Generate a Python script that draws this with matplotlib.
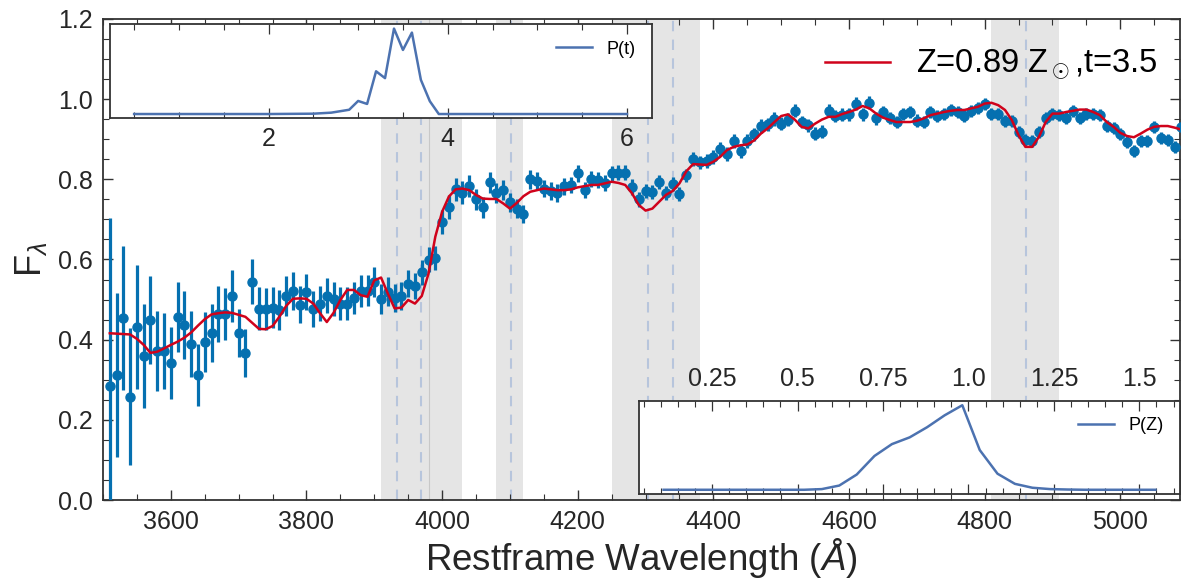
import numpy as np
import matplotlib
matplotlib.use('Agg')
import matplotlib.pyplot as plt
from matplotlib.ticker import MultipleLocator, FixedLocator, FixedFormatter

plt.rcParams['font.family'] = ['Liberation Sans', 'DejaVu Sans']
plt.rcParams['mathtext.fontset'] = 'custom'
plt.rcParams['mathtext.rm'] = 'Liberation Sans'
plt.rcParams['mathtext.it'] = 'Liberation Sans:italic'
plt.rcParams['mathtext.fallback'] = 'cm'

# observed spectrum, 10 A sampling from 3510 to 5090 A
wave = np.arange(3510, 5091, 10)
flux = [
    0.284, 0.312, 0.454, 0.258, 0.431, 0.359, 0.450, 0.372, 0.372, 0.342,  # 3510-3600
    0.457, 0.436, 0.389, 0.312, 0.394, 0.417, 0.464, 0.464, 0.509, 0.416,  # 3610-3700
    0.367, 0.545, 0.477, 0.477, 0.480, 0.474, 0.509, 0.522, 0.487, 0.519,  # 3710-3800
    0.476, 0.490, 0.510, 0.501, 0.490, 0.490, 0.503, 0.522, 0.522, 0.544,  # 3810-3900
    0.501, 0.520, 0.503, 0.509, 0.540, 0.534, 0.568, 0.600, 0.604, 0.694,  # 3910-4000
    0.731, 0.775, 0.767, 0.783, 0.750, 0.730, 0.793, 0.767, 0.773, 0.743,  # 4010-4100
    0.727, 0.714, 0.800, 0.796, 0.777, 0.771, 0.766, 0.783, 0.786, 0.815,  # 4110-4200
    0.773, 0.802, 0.798, 0.791, 0.815, 0.817, 0.817, 0.781, 0.750, 0.771,  # 4210-4300
    0.769, 0.794, 0.766, 0.788, 0.763, 0.810, 0.850, 0.842, 0.846, 0.856,  # 4310-4400
    0.875, 0.863, 0.895, 0.871, 0.895, 0.912, 0.933, 0.937, 0.951, 0.939,  # 4410-4500
    0.949, 0.971, 0.943, 0.935, 0.914, 0.919, 0.971, 0.958, 0.961, 0.962,  # 4510-4600
    0.989, 0.962, 0.991, 0.952, 0.968, 0.953, 0.943, 0.963, 0.968, 0.946,  # 4610-4700
    0.942, 0.968, 0.958, 0.962, 0.973, 0.969, 0.958, 0.971, 0.979, 0.988,  # 4710-4800
    0.963, 0.964, 0.945, 0.945, 0.919, 0.898, 0.895, 0.919, 0.952, 0.964,  # 4810-4900
    0.960, 0.954, 0.971, 0.954, 0.963, 0.964, 0.961, 0.933, 0.929, 0.913,  # 4910-5000
    0.894, 0.871, 0.895, 0.896, 0.931, 0.904, 0.898, 0.881, 0.931,         # 5010-5090
]
flux_err = [
    0.420, 0.205, 0.180, 0.170, 0.155, 0.130, 0.110, 0.100, 0.095, 0.090,
    0.087, 0.085, 0.082, 0.077, 0.075, 0.072, 0.069, 0.066, 0.064, 0.060,
    0.059, 0.056, 0.054, 0.053, 0.051, 0.050, 0.049, 0.048, 0.046, 0.045,
    0.045, 0.043, 0.043, 0.042, 0.041, 0.041, 0.040, 0.040, 0.039, 0.038,
    0.037, 0.036, 0.035, 0.034, 0.033, 0.032, 0.031, 0.031, 0.030, 0.030,
    0.029, 0.028, 0.028, 0.027, 0.027, 0.026, 0.026, 0.025, 0.025, 0.024,
    0.024, 0.023, 0.023, 0.023, 0.022, 0.022, 0.022, 0.021, 0.021, 0.021,
    0.020, 0.020, 0.020, 0.020, 0.019, 0.019, 0.019, 0.019, 0.018, 0.018,
    0.018, 0.018, 0.018, 0.017, 0.017, 0.017, 0.017, 0.017, 0.017, 0.017,
    0.017, 0.017, 0.017, 0.017, 0.017, 0.017, 0.017, 0.017, 0.017, 0.017,
    0.016, 0.016, 0.016, 0.016, 0.016, 0.016, 0.016, 0.016, 0.016, 0.016,
    0.016, 0.016, 0.016, 0.016, 0.016, 0.016, 0.016, 0.016, 0.016, 0.016,
    0.015, 0.015, 0.015, 0.015, 0.015, 0.015, 0.015, 0.015, 0.015, 0.015,
    0.015, 0.015, 0.015, 0.015, 0.015, 0.015, 0.015, 0.015, 0.015, 0.015,
    0.015, 0.015, 0.015, 0.015, 0.015, 0.015, 0.015, 0.015, 0.015, 0.015,
    0.015, 0.015, 0.015, 0.015, 0.015, 0.015, 0.015, 0.015, 0.015,
]
# best-fit model on the same grid
model = [
    0.416, 0.415, 0.414, 0.413, 0.402, 0.387, 0.367, 0.370, 0.378, 0.387,
    0.395, 0.405, 0.418, 0.435, 0.451, 0.463, 0.466, 0.468, 0.467, 0.462,
    0.457, 0.442, 0.427, 0.426, 0.434, 0.457, 0.484, 0.502, 0.503, 0.502,
    0.490, 0.466, 0.444, 0.467, 0.499, 0.524, 0.524, 0.511, 0.507, 0.548,
    0.555, 0.515, 0.478, 0.480, 0.499, 0.490, 0.509, 0.565, 0.657, 0.719,
    0.757, 0.775, 0.777, 0.773, 0.761, 0.752, 0.751, 0.751, 0.740, 0.727,
    0.741, 0.758, 0.769, 0.773, 0.777, 0.775, 0.773, 0.773, 0.775, 0.780,
    0.783, 0.786, 0.786, 0.790, 0.794, 0.791, 0.786, 0.765, 0.736, 0.722,
    0.727, 0.744, 0.761, 0.771, 0.790, 0.820, 0.838, 0.837, 0.836, 0.844,
    0.856, 0.873, 0.881, 0.885, 0.887, 0.897, 0.914, 0.927, 0.943, 0.958,
    0.962, 0.949, 0.931, 0.927, 0.939, 0.949, 0.956, 0.956, 0.963, 0.968,
    0.974, 0.983, 0.977, 0.964, 0.954, 0.948, 0.943, 0.943, 0.943, 0.946,
    0.952, 0.960, 0.964, 0.968, 0.971, 0.973, 0.973, 0.977, 0.981, 0.989,
    0.991, 0.985, 0.973, 0.948, 0.910, 0.881, 0.881, 0.906, 0.943, 0.964,
    0.964, 0.968, 0.971, 0.974, 0.974, 0.968, 0.960, 0.943, 0.931, 0.916,
    0.908, 0.905, 0.914, 0.924, 0.931, 0.933, 0.933, 0.929, 0.924,
]

# shaded index windows and line centres
bands = [(3910, 4030), (4080, 4120), (4250, 4380), (4810, 4910)]
lines = [3934, 3969, 4102, 4304, 4340, 4861]

# age posterior
t_grid = [0.5, 1.0, 1.5, 2.0, 2.5, 2.7, 2.9, 3.0, 3.1, 3.2, 3.3, 3.4, 3.5,
          3.6, 3.7, 3.8, 3.9, 4.0, 4.5, 5.0, 5.5, 6.0]
p_t = [0, 0, 0, 0, 0.004, 0.016, 0.05, 0.153, 0.118, 0.50, 0.42, 1.0, 0.75,
       0.953, 0.40, 0.15, 0.0, 0, 0, 0, 0, 0]

# metallicity posterior
z_grid = [0.108, 0.159, 0.211, 0.262, 0.314, 0.365, 0.416, 0.468, 0.519, 0.571,
          0.622, 0.673, 0.725, 0.776, 0.828, 0.879, 0.930, 0.982, 1.033, 1.085,
          1.136, 1.187, 1.239, 1.290, 1.342, 1.393, 1.444, 1.496, 1.547]
p_z = [0, 0, 0, 0, 0, 0, 0, 0, 0, 0.008,
       0.05, 0.18, 0.40, 0.54, 0.62, 0.74, 0.88, 1.0, 0.47, 0.19,
       0.07, 0.024, 0.008, 0.003, 0, 0, 0, 0, 0]
z_ticks = [0.25, 0.5, 0.75, 1.0, 1.25, 1.5]

W, H = 1184, 582
fig = plt.figure(figsize=(W / 100, H / 100), dpi=100)

def px_axes(x0, y0, x1, y1):
    # pixel box (top-left origin) -> figure fraction
    return fig.add_axes([x0 / W, 1 - y1 / H, (x1 - x0) / W, (y1 - y0) / H])

ax = px_axes(103, 19, 1180, 500)
for lo, hi in bands:
    ax.axvspan(lo, hi, color='#e5e5e5', lw=0, zorder=0)
for lam in lines:
    ax.axvline(lam, color='#b7c5dc', lw=1.5, ls=(0, (5, 4)), zorder=1)
ax.axvline(3980, color='#c8c8c8', lw=0.8, zorder=1)

ax.errorbar(wave, flux, yerr=flux_err, fmt='o', color='#0570b0', ms=6.5,
            elinewidth=2.3, capsize=0, zorder=3)
ax.plot(wave, model, color='#d0021b', lw=1.8, zorder=4,
        label=r'Z=0.89 Z$_\odot$,t=3.5')

ax.set_xlim(3500, 5088)
ax.set_ylim(0, 1.2)
ax.xaxis.set_major_locator(MultipleLocator(200))
ax.xaxis.set_minor_locator(MultipleLocator(50))
ax.yaxis.set_major_locator(MultipleLocator(0.2))
ax.yaxis.set_minor_locator(MultipleLocator(0.05))
ax.tick_params(which='both', direction='in', top=True, right=True,
               color='#333333', labelcolor='#262626', labelsize=18)
ax.tick_params(which='major', length=7, width=1, pad=7.5)
ax.tick_params(which='minor', length=4.3, width=0.8)
for sp in ax.spines.values():
    sp.set_color('#333333')
    sp.set_linewidth(1.3)
ax.set_xlabel(r'Restframe Wavelength ($\AA$)', fontsize=26.5, color='#262626', labelpad=1)
ax.set_ylabel(r'F$_\lambda$', fontsize=26, color='#262626', labelpad=6)
ax.legend(loc='upper right', bbox_to_anchor=(1.0065, 1.0), frameon=False,
          fontsize=23.5, handlelength=2)

# age inset
ax_t = px_axes(109.5, 24.3, 651.6, 118.3)
ax_t.plot(t_grid, p_t, color='#4c72b0', lw=1.8, label='P(t)')
ax_t.xaxis.set_major_locator(MultipleLocator(2))
ax_t.xaxis.set_minor_locator(MultipleLocator(0.5))
ax_t.set_yticks([])
ax_t.tick_params(which='both', direction='in', top=True, bottom=True,
                 color='#333333', labelcolor='#262626', labelsize=18)
ax_t.tick_params(which='major', length=7, width=0.9, pad=6)
ax_t.tick_params(which='minor', length=4.3, width=0.8)
ax_t.legend(loc='upper right', frameon=False, fontsize=13)

# metallicity inset
ax_z = px_axes(639, 401, 1180, 494)
ax_z.plot(z_grid, p_z, color='#4c72b0', lw=1.8, label='P(Z)')
ax_z.xaxis.set_major_locator(FixedLocator(z_ticks))
ax_z.xaxis.set_major_formatter(FixedFormatter([str(v) for v in z_ticks]))
ax_z.xaxis.set_minor_locator(MultipleLocator(0.05))
ax_z.set_yticks([])
ax_z.tick_params(which='both', direction='in', top=True, bottom=True,
                 labeltop=True, labelbottom=False,
                 color='#333333', labelcolor='#262626', labelsize=18)
ax_z.tick_params(which='major', length=7, width=0.9, pad=7)
ax_z.tick_params(which='minor', length=4.3, width=0.8)
ax_z.legend(loc='upper right', frameon=False, fontsize=13)

for a in (ax_t, ax_z):
    for sp in a.spines.values():
        sp.set_color('#333333')
        sp.set_linewidth(1.3)

fig.savefig('out.png', dpi=100)
